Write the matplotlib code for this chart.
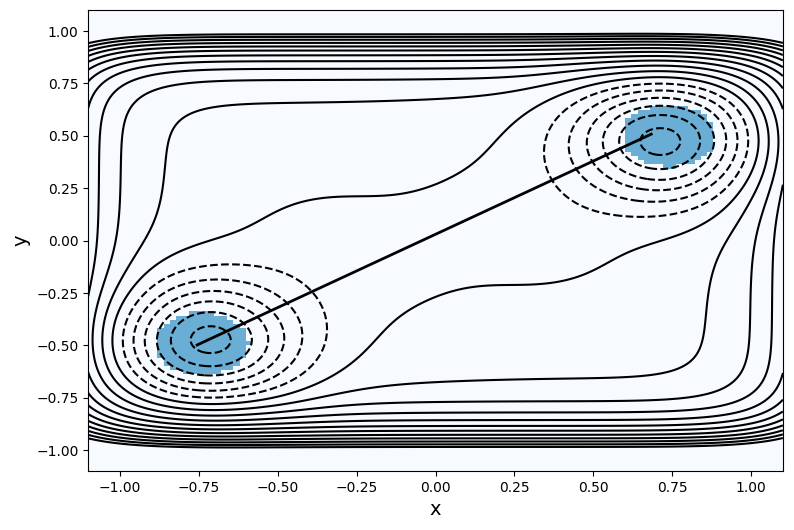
import numpy as np
import matplotlib
matplotlib.use('Agg')
import matplotlib.pyplot as plt

# potential: flat plateau, steep walls, two wells joined by a tube, two side bumps
plateau = 0.6
wall_k = 11.8
wall_xscale = 1.3
well_x = [-0.735, 0.735]
well_y = [-0.487, 0.487]
well_depth = 6.66
well_width = 0.2
tube_depth = 0.8
tube_width = 0.28
tube_end = 0.88
tube_soft = 0.12
bump_x = [-0.4, 0.4]
bump_y = [0.06, -0.06]
bump_depth = 0.38
bump_width = 0.17
levels = list(range(-6, 12))

# sampled start/end regions and the initial straight path
blob_x = [-0.745, 0.746]
blob_y = [-0.498, 0.502]
blob_r = 0.15
path_x = [-0.755, 0.683]
path_y = [-0.498, 0.508]

lim = 1.1
xs = np.linspace(-lim, lim, 400)
X, Y = np.meshgrid(xs, xs)
V = plateau + wall_k * ((X / wall_xscale) ** 8 + Y ** 8)
for wx, wy in zip(well_x, well_y):
    V -= well_depth * np.exp(-((X - wx) ** 2 + (Y - wy) ** 2) / (2 * well_width ** 2))

# tube along the well-to-well axis
ux, uy = well_x[1] - well_x[0], well_y[1] - well_y[0]
n = np.hypot(ux, uy)
ux, uy = ux / n, uy / n
t = X * ux + Y * uy
p = -X * uy + Y * ux
taper = 0.5 * (1 - np.tanh((np.abs(t) - tube_end) / tube_soft))
V -= tube_depth * taper * np.exp(-p ** 2 / (2 * tube_width ** 2))
for bx, by in zip(bump_x, bump_y):
    V -= bump_depth * np.exp(-((X - bx) ** 2 + (Y - by) ** 2) / (2 * bump_width ** 2))

gs = np.linspace(-lim, lim, 110)
GX, GY = np.meshgrid(gs, gs)
hist = np.zeros_like(GX)
for bx, by in zip(blob_x, blob_y):
    hist[(GX - bx) ** 2 + (GY - by) ** 2 < blob_r ** 2] = 1

fig = plt.figure(figsize=(7.94, 5.3), dpi=100)
ax = fig.add_axes([0.111, 0.111, 0.875, 0.870])
ax.imshow(hist, cmap='Blues', vmin=0, vmax=2, origin='lower',
          extent=[-lim, lim, -lim, lim], aspect='auto', interpolation='nearest')
ax.contour(X, Y, V, levels=levels, colors='k', linewidths=1.5)
ax.plot(path_x, path_y, color='k', lw=2)
ax.set_xlim(-lim, lim)
ax.set_ylim(-lim, lim)
ax.set_xlabel('x', fontsize=14)
ax.set_ylabel('y', fontsize=14)
fig.savefig('out.png', dpi=100)
